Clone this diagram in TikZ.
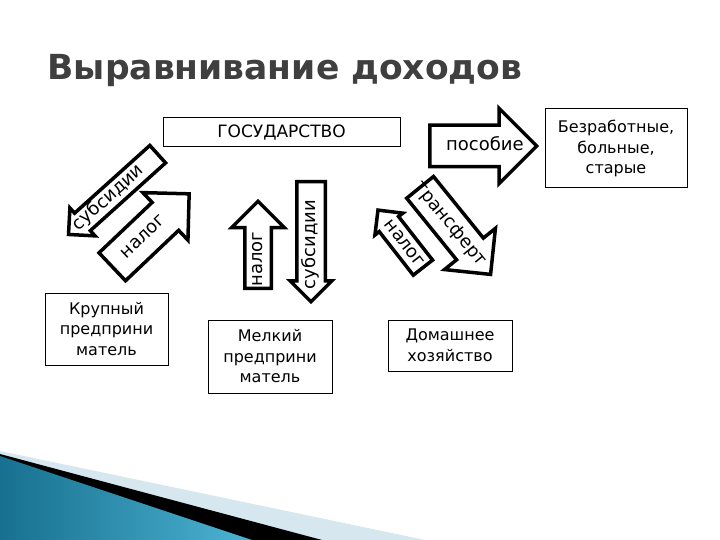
\documentclass[tikz,border=0pt]{standalone}
\usepackage{fontspec}
\setmainfont{DejaVu Sans}
\usetikzlibrary{
	positioning,
	shapes.arrows
}
\definecolor{titlegray}{HTML}{3F3F3F}
\definecolor{bandlight}{HTML}{D6E7F0}
\definecolor{tealdark}{HTML}{17708F}
\definecolor{teallight}{HTML}{4DB3D3}

\begin{document}
\begin{tikzpicture}[
			x=1pt,y=-1pt,
			box/.style={
				draw,
				line width=1pt,
				fill=white,
				inner sep=0pt,
				align=center,
				font=\fontsize{16}{20.5}\selectfont
			},
			barrow/.style n args={3}{
				single arrow,
				draw,
				line width=3.5pt,
				fill=white,
				inner xsep=0pt,
				text height=13pt,
				text depth=4pt,
				minimum height=#1,
				inner ysep=#2,
				single arrow head extend=#3,
				font=\fontsize{18}{20}\selectfont
			}
			]
			
			\useasboundingbox[fill=white] (0,0) rectangle (720,540);
			
			% corner decoration
			\fill[bandlight] (0,451) -- (425,540) -- (0,540) -- cycle;
			\fill[black] (0,454) -- (322,540) -- (0,540) -- cycle;
			\fill[left color=tealdark,right color=teallight] (0,456) -- (252,540) -- (0,540) -- cycle;
			
			\node[anchor=base west,text=titlegray,font=\fontsize{34.5}{40}\selectfont\bfseries] (title) at (44,80) {Выравнивание доходов};
			
			\node[box,minimum width=237,minimum height=29,font=\fontsize{17}{20}\selectfont] (state) at (281.5,132.5) {ГОСУДАРСТВО};
			
			\node[box,minimum width=142,minimum height=79] (poor) at (616,148.5)
			{Безработные,\\больные,\\старые};
			
			\node[box,minimum width=123,minimum height=72] (big) at (106.5,329)
			{Крупный\\предприни\\матель};
			
			\node[box,minimum width=124,minimum height=73] (small) at (270,356.5)
			{Мелкий\\предприни\\матель};
			
			\node[box,minimum width=124,minimum height=51] (home) at (450,345.5)
			{Домашнее\\хозяйство};
			
			\node[barrow={107}{10.5}{17},anchor=tail] (benefit) at (428,146) {пособие\hspace*{-24pt}};
			
			\node[barrow={120}{1.5}{7},shape border rotate=180,rotate=42,anchor=tail] (subbig) at (159,153) {\hspace*{-24pt}субсидии};
			\node[barrow={106}{9}{13.5},rotate=43.5,anchor=tail] (taxbig) at (111,268) {налог};
			
			\node[barrow={87}{3}{13},rotate=90,anchor=tail] (taxsmall) at (258,290) {\hspace*{-16pt}налог};
			\node[barrow={120}{4}{6.5},shape border rotate=180,rotate=90,anchor=tail] (subsmall) at (311,180) {\hspace*{-20pt}субсидии};
			
			\node[barrow={73}{2}{5.5},shape border rotate=180,rotate=-52,anchor=tail] (taxhome) at (424,269) {налог};
			\node[barrow={112}{7}{15.5},rotate=-51,anchor=tail] (transfer) at (419,186) {\hspace*{-12pt}трансферт\hspace*{-12pt}};
			
		\end{tikzpicture}
\end{document}
